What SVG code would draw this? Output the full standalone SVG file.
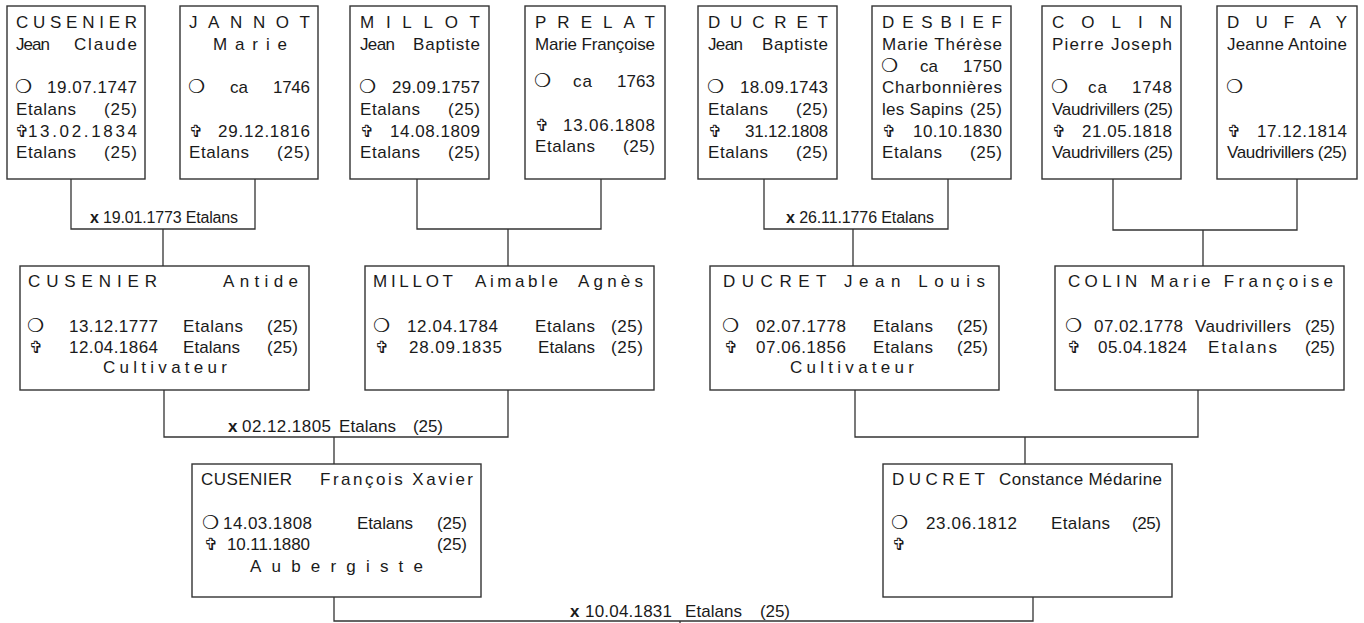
<svg xmlns="http://www.w3.org/2000/svg" width="1364" height="623" viewBox="0 0 1364 623">
<style>
text{font-family:"Liberation Sans",Arial,sans-serif;font-size:17px;fill:#1a1a1a}
.sym{font-family:"DejaVu Sans",sans-serif;font-size:19px}
.cr{font-family:"DejaVu Sans",sans-serif;font-size:17px}
.lb{font-size:16px}
.b{font-weight:bold}
rect{fill:#fff;stroke:#333;stroke-width:1.4}
#connectors path{fill:none;stroke:#333;stroke-width:1.3}
</style>
<rect x="0" y="0" width="1364" height="623" style="fill:#fff;stroke:none"/>
<g id="connectors">
<path d="M71 179V229H255V179M163 229V266"/>
<path d="M417 179V229H601V179M508 229V266"/>
<path d="M764 179V229H948V179M853 229V266"/>
<path d="M1113 179V230H1297V179M1203 230V266"/>
<path d="M164 390V437H508V390M334 437V464"/>
<path d="M855 390V437H1198V390M1025 437V464"/>
<path d="M334 597V621H1033V597M680 621V623"/>
<text class="lb" x="90" y="223" textLength="148"><tspan class="b">x</tspan> 19.01.1773 Etalans</text>
<text class="lb" x="786" y="223" textLength="148"><tspan class="b">x</tspan> 26.11.1776 Etalans</text>
<text class="b" x="228" y="432">x</text>
<text x="242" y="432" textLength="89">02.12.1805</text>
<text x="339" y="432" textLength="57">Etalans</text>
<text x="413" y="432" textLength="30">(25)</text>
<text class="b" x="570" y="617">x</text>
<text x="585" y="617" textLength="87">10.04.1831</text>
<text x="685" y="617" textLength="57">Etalans</text>
<text x="760" y="617" textLength="30">(25)</text>
</g>
<g id="p1">
<rect x="7" y="6" width="138" height="173"/>
<text x="16" y="28" textLength="121">CUSENIER</text>
<text x="16" y="50" textLength="34">Jean</text>
<text x="74" y="50" textLength="63">Claude</text>
<text class="sym" x="15" y="93">❍</text>
<text x="47" y="93" textLength="90">19.07.1747</text>
<text x="16" y="115" textLength="60">Etalans</text>
<text x="104" y="115" textLength="33">(25)</text>
<text class="cr" x="15" y="137">✞</text>
<text x="28" y="137" textLength="109">13.02.1834</text>
<text x="16" y="158" textLength="60">Etalans</text>
<text x="104" y="158" textLength="33">(25)</text>
</g>
<g id="p2">
<rect x="180" y="6" width="138" height="173"/>
<text x="189" y="28" textLength="121">JANNOT</text>
<text x="213" y="50" textLength="74">Marie</text>
<text class="sym" x="188" y="93">❍</text>
<text x="230" y="93" textLength="18">ca</text>
<text x="273" y="93" textLength="37">1746</text>
<text class="cr" x="189" y="137">✞</text>
<text x="218" y="137" textLength="92">29.12.1816</text>
<text x="189" y="158" textLength="60">Etalans</text>
<text x="277" y="158" textLength="33">(25)</text>
</g>
<g id="p3">
<rect x="350" y="6" width="139" height="173"/>
<text x="360" y="28" textLength="120">MILLOT</text>
<text x="360" y="50" textLength="35">Jean</text>
<text x="413" y="50" textLength="67">Baptiste</text>
<text class="sym" x="359" y="93">❍</text>
<text x="392" y="93" textLength="88">29.09.1757</text>
<text x="360" y="115" textLength="60">Etalans</text>
<text x="448" y="115" textLength="32">(25)</text>
<text class="cr" x="360" y="137">✞</text>
<text x="390" y="137" textLength="90">14.08.1809</text>
<text x="360" y="158" textLength="60">Etalans</text>
<text x="448" y="158" textLength="32">(25)</text>
</g>
<g id="p4">
<rect x="525" y="6" width="140" height="173"/>
<text x="535" y="28" textLength="120">PRELAT</text>
<text x="535" y="50" textLength="120">Marie Françoise</text>
<text class="sym" x="534" y="87">❍</text>
<text x="573" y="87" textLength="19">ca</text>
<text x="617" y="87" textLength="38">1763</text>
<text class="cr" x="535" y="131">✞</text>
<text x="563" y="131" textLength="92">13.06.1808</text>
<text x="535" y="152" textLength="60">Etalans</text>
<text x="623" y="152" textLength="32">(25)</text>
</g>
<g id="p5">
<rect x="698" y="6" width="139" height="173"/>
<text x="708" y="28" textLength="120">DUCRET</text>
<text x="708" y="50" textLength="35">Jean</text>
<text x="762" y="50" textLength="66">Baptiste</text>
<text class="sym" x="707" y="93">❍</text>
<text x="740" y="93" textLength="88">18.09.1743</text>
<text x="708" y="115" textLength="60">Etalans</text>
<text x="796" y="115" textLength="32">(25)</text>
<text class="cr" x="708" y="137">✞</text>
<text x="745" y="137" textLength="83">31.12.1808</text>
<text x="708" y="158" textLength="60">Etalans</text>
<text x="796" y="158" textLength="32">(25)</text>
</g>
<g id="p6">
<rect x="872" y="6" width="139" height="173"/>
<text x="882" y="28" textLength="120">DESBIEF</text>
<text x="882" y="50" textLength="120">Marie Thérèse</text>
<text class="sym" x="881" y="72">❍</text>
<text x="920" y="72" textLength="18">ca</text>
<text x="963" y="72" textLength="39">1750</text>
<text x="882" y="93" textLength="120">Charbonnières</text>
<text x="882" y="115" textLength="81">les Sapins</text>
<text x="970" y="115" textLength="32">(25)</text>
<text class="cr" x="882" y="137">✞</text>
<text x="913" y="137" textLength="89">10.10.1830</text>
<text x="882" y="158" textLength="60">Etalans</text>
<text x="970" y="158" textLength="32">(25)</text>
</g>
<g id="p7">
<rect x="1042" y="6" width="139" height="173"/>
<text x="1052" y="28" textLength="120">COLIN</text>
<text x="1052" y="50" textLength="120">Pierre Joseph</text>
<text class="sym" x="1051" y="93">❍</text>
<text x="1088" y="93" textLength="19">ca</text>
<text x="1132" y="93" textLength="40">1748</text>
<text x="1052" y="115" textLength="121">Vaudrivillers (25)</text>
<text class="cr" x="1052" y="137">✞</text>
<text x="1082" y="137" textLength="90">21.05.1818</text>
<text x="1052" y="158" textLength="121">Vaudrivillers (25)</text>
</g>
<g id="p8">
<rect x="1217" y="6" width="140" height="173"/>
<text x="1227" y="28" textLength="120">DUFAY</text>
<text x="1227" y="50" textLength="120">Jeanne Antoine</text>
<text class="sym" x="1226" y="93">❍</text>
<text class="cr" x="1227" y="137">✞</text>
<text x="1257" y="137" textLength="90">17.12.1814</text>
<text x="1227" y="158" textLength="120">Vaudrivillers (25)</text>
</g>
<g id="p9">
<rect x="20" y="266" width="289" height="124"/>
<text x="28" y="287" textLength="129">CUSENIER</text>
<text x="223" y="287" textLength="75">Antide</text>
<text class="sym" x="27" y="332">❍</text>
<text x="69" y="332" textLength="89">13.12.1777</text>
<text x="183" y="332" textLength="60">Etalans</text>
<text x="267" y="332" textLength="31">(25)</text>
<text class="cr" x="29" y="353">✞</text>
<text x="69" y="353" textLength="89">12.04.1864</text>
<text x="183" y="353" textLength="57">Etalans</text>
<text x="267" y="353" textLength="31">(25)</text>
<text x="103" y="373" textLength="124">Cultivateur</text>
</g>
<g id="p10">
<rect x="365" y="266" width="289" height="124"/>
<text x="373" y="287" textLength="80">MILLOT</text>
<text x="475" y="287" textLength="83">Aimable</text>
<text x="578" y="287" textLength="65">Agnès</text>
<text class="sym" x="373" y="332">❍</text>
<text x="407" y="332" textLength="91">12.04.1784</text>
<text x="535" y="332" textLength="60">Etalans</text>
<text x="611" y="332" textLength="32">(25)</text>
<text class="cr" x="375" y="353">✞</text>
<text x="409" y="353" textLength="93">28.09.1835</text>
<text x="538" y="353" textLength="57">Etalans</text>
<text x="611" y="353" textLength="32">(25)</text>
</g>
<g id="p11">
<rect x="710" y="266" width="289" height="124"/>
<text x="723" y="287" textLength="262">DUCRET Jean Louis</text>
<text class="sym" x="722" y="332">❍</text>
<text x="756" y="332" textLength="90">02.07.1778</text>
<text x="873" y="332" textLength="60">Etalans</text>
<text x="957" y="332" textLength="31">(25)</text>
<text class="cr" x="724" y="353">✞</text>
<text x="756" y="353" textLength="90">07.06.1856</text>
<text x="873" y="353" textLength="60">Etalans</text>
<text x="957" y="353" textLength="31">(25)</text>
<text x="790" y="373" textLength="124">Cultivateur</text>
</g>
<g id="p12">
<rect x="1055" y="266" width="289" height="124"/>
<text x="1068" y="287" textLength="265">COLIN Marie Françoise</text>
<text class="sym" x="1065" y="332">❍</text>
<text x="1094" y="332" textLength="89">07.02.1778</text>
<text x="1195" y="332" textLength="96">Vaudrivillers</text>
<text x="1305" y="332" textLength="30">(25)</text>
<text class="cr" x="1067" y="353">✞</text>
<text x="1098" y="353" textLength="89">05.04.1824</text>
<text x="1208" y="353" textLength="69">Etalans</text>
<text x="1305" y="353" textLength="30">(25)</text>
</g>
<g id="p13">
<rect x="192" y="464" width="289" height="133"/>
<text x="201" y="485" textLength="91">CUSENIER</text>
<text x="320" y="485" textLength="153">François Xavier</text>
<text class="sym" x="202" y="529">❍</text>
<text x="223" y="529" textLength="89">14.03.1808</text>
<text x="357" y="529" textLength="56">Etalans</text>
<text x="437" y="529" textLength="30">(25)</text>
<text class="cr" x="204" y="550">✞</text>
<text x="227" y="550" textLength="83">10.11.1880</text>
<text x="437" y="550" textLength="30">(25)</text>
<text x="250" y="572" textLength="173">Aubergiste</text>
</g>
<g id="p14">
<rect x="883" y="464" width="289" height="133"/>
<text x="892" y="485" textLength="93">DUCRET</text>
<text x="999" y="485" textLength="163">Constance Médarine</text>
<text class="sym" x="891" y="529">❍</text>
<text x="926" y="529" textLength="91">23.06.1812</text>
<text x="1051" y="529" textLength="59">Etalans</text>
<text x="1132" y="529" textLength="29">(25)</text>
<text class="cr" x="892" y="550">✞</text>
</g>
</svg>
